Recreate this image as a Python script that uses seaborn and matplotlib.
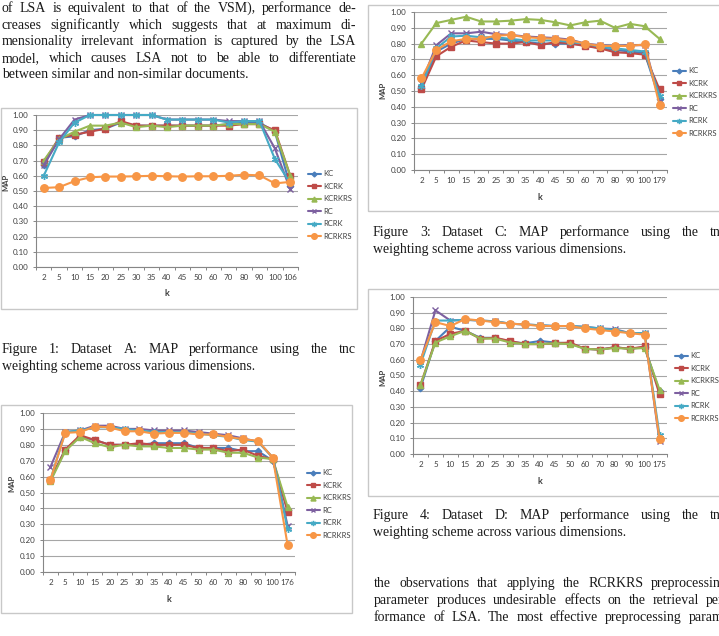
import numpy as np
import pandas as pd
import matplotlib
matplotlib.use('Agg')
import matplotlib.pyplot as plt
from matplotlib.patches import Rectangle
import seaborn as sns

sns.set_style('white')
plt.rcParams['font.family'] = ['Lato', 'DejaVu Sans']

W, H = 719, 636

# ---- datos ----
series = ['KC', 'KCRK', 'KCRKRS', 'RC', 'RCRK', 'RCRKRS']
colores = ['#4a7ebb', '#be4b48', '#98b954', '#7d60a0', '#46aac5', '#f79646']

k_a = ['2', '5', '10', '15', '20', '25', '30', '35', '40', '45', '50', '60', '70', '80', '90', '100', '106']
kc_a = [0.67, 0.85, 0.86, 0.90, 0.91, 0.95, 0.93, 0.93, 0.93, 0.93, 0.93, 0.93, 0.94, 0.95, 0.95, 0.89, 0.53]
kcrk_a = [0.69, 0.85, 0.87, 0.89, 0.91, 0.96, 0.93, 0.93, 0.93, 0.93, 0.93, 0.93, 0.93, 0.94, 0.94, 0.90, 0.60]
kcrkrs_a = [0.70, 0.84, 0.89, 0.93, 0.93, 0.95, 0.92, 0.93, 0.92, 0.93, 0.93, 0.93, 0.94, 0.94, 0.94, 0.89, 0.60]
rc_a = [0.67, 0.84, 0.97, 1.00, 1.00, 1.00, 1.00, 1.00, 0.97, 0.97, 0.97, 0.97, 0.96, 0.96, 0.96, 0.78, 0.51]
rcrk_a = [0.60, 0.82, 0.95, 1.00, 1.00, 1.00, 1.00, 1.00, 0.97, 0.97, 0.97, 0.97, 0.95, 0.96, 0.96, 0.71, 0.55]
rcrkrs_a = [0.52, 0.525, 0.565, 0.59, 0.595, 0.595, 0.597, 0.60, 0.597, 0.595, 0.597, 0.597, 0.60, 0.607, 0.603, 0.55, 0.56]

k_b = ['2', '5', '10', '15', '20', '25', '30', '35', '40', '45', '50', '60', '70', '80', '90', '100', '176']
kc_b = [0.58, 0.77, 0.85, 0.83, 0.80, 0.80, 0.80, 0.81, 0.81, 0.81, 0.78, 0.78, 0.78, 0.76, 0.76, 0.70, 0.39]
kcrk_b = [0.58, 0.77, 0.86, 0.83, 0.80, 0.80, 0.81, 0.80, 0.80, 0.80, 0.78, 0.78, 0.76, 0.77, 0.73, 0.71, 0.38]
kcrkrs_b = [0.57, 0.76, 0.85, 0.81, 0.785, 0.80, 0.79, 0.79, 0.78, 0.78, 0.77, 0.77, 0.75, 0.75, 0.72, 0.71, 0.41]
rc_b = [0.66, 0.88, 0.89, 0.92, 0.92, 0.90, 0.90, 0.89, 0.89, 0.89, 0.88, 0.87, 0.86, 0.84, 0.82, 0.72, 0.29]
rcrk_b = [0.58, 0.88, 0.89, 0.91, 0.91, 0.90, 0.89, 0.88, 0.88, 0.88, 0.87, 0.86, 0.85, 0.83, 0.82, 0.72, 0.27]
rcrkrs_b = [0.58, 0.875, 0.88, 0.915, 0.91, 0.885, 0.885, 0.87, 0.875, 0.875, 0.865, 0.865, 0.85, 0.835, 0.825, 0.72, 0.17]

k_c = ['2', '5', '10', '15', '20', '25', '30', '35', '40', '45', '50', '60', '70', '80', '90', '100', '179']
kc_c = [0.52, 0.75, 0.80, 0.83, 0.83, 0.83, 0.82, 0.81, 0.80, 0.80, 0.80, 0.79, 0.77, 0.76, 0.75, 0.74, 0.45]
kcrk_c = [0.51, 0.72, 0.78, 0.82, 0.81, 0.80, 0.80, 0.81, 0.79, 0.81, 0.80, 0.785, 0.77, 0.745, 0.74, 0.73, 0.51]
kcrkrs_c = [0.80, 0.93, 0.95, 0.97, 0.94, 0.94, 0.945, 0.955, 0.95, 0.935, 0.915, 0.935, 0.945, 0.90, 0.925, 0.91, 0.83]
rc_c = [0.55, 0.79, 0.865, 0.865, 0.875, 0.86, 0.855, 0.845, 0.84, 0.835, 0.825, 0.80, 0.79, 0.785, 0.79, 0.79, 0.44]
rcrk_c = [0.53, 0.77, 0.845, 0.85, 0.84, 0.84, 0.83, 0.82, 0.82, 0.82, 0.81, 0.80, 0.78, 0.77, 0.76, 0.75, 0.47]
rcrkrs_c = [0.58, 0.76, 0.815, 0.83, 0.83, 0.85, 0.855, 0.84, 0.835, 0.83, 0.82, 0.80, 0.785, 0.785, 0.785, 0.795, 0.41]

k_d = ['2', '5', '10', '15', '20', '25', '30', '35', '40', '45', '50', '60', '70', '80', '90', '100', '175']
kc_d = [0.42, 0.72, 0.81, 0.785, 0.74, 0.74, 0.715, 0.705, 0.72, 0.71, 0.705, 0.67, 0.665, 0.68, 0.67, 0.68, 0.40]
kcrk_d = [0.44, 0.72, 0.765, 0.785, 0.735, 0.74, 0.72, 0.70, 0.70, 0.705, 0.71, 0.67, 0.665, 0.68, 0.67, 0.685, 0.38]
kcrkrs_d = [0.44, 0.71, 0.75, 0.785, 0.735, 0.735, 0.71, 0.70, 0.70, 0.705, 0.70, 0.67, 0.665, 0.675, 0.67, 0.675, 0.41]
rc_d = [0.59, 0.915, 0.85, 0.855, 0.85, 0.845, 0.83, 0.825, 0.82, 0.815, 0.815, 0.81, 0.80, 0.795, 0.77, 0.77, 0.08]
rcrk_d = [0.57, 0.85, 0.85, 0.855, 0.85, 0.845, 0.83, 0.825, 0.82, 0.815, 0.815, 0.81, 0.80, 0.79, 0.77, 0.77, 0.12]
rcrkrs_d = [0.60, 0.84, 0.815, 0.86, 0.85, 0.84, 0.83, 0.825, 0.815, 0.815, 0.815, 0.80, 0.79, 0.78, 0.77, 0.76, 0.095]

marcadores = {'KC': 'D', 'KCRK': 's', 'KCRKRS': '^', 'RC': 'x', 'RCRK': (6, 2, 0), 'RCRKRS': 'o'}
tam = {'KC': 3.3, 'KCRK': 4.6, 'KCRKRS': 4.8, 'RC': 4.6, 'RCRK': 5.0, 'RCRKRS': 5.4}

texto_izq = ['of LSA is equivalent to that of the VSM), performance de-',
             'creases significantly which suggests that at maximum di-',
             'mensionality irrelevant information is captured by the LSA',
             'model, which causes LSA not to be able to differentiate',
             'between similar and non-similar documents.']
cap1 = ['Figure 1:  Dataset A: MAP performance using the tnc',
        'weighting scheme across various dimensions.']
cap3 = ['Figure 3:  Dataset C: MAP performance using the tnc',
        'weighting scheme across various dimensions.']
cap4 = ['Figure 4:  Dataset D: MAP performance using the tnc',
        'weighting scheme across various dimensions.']
texto_der = ['the observations that applying the RCRKRS preprocessing',
             'parameter produces undesirable effects on the retrieval per-',
             'formance of LSA. The most effective preprocessing param-']

fig = plt.figure(figsize=(W / 100, H / 100), dpi=100)
fig.patch.set_facecolor('white')
renderer = fig.canvas.get_renderer()


def fx(px):
    return px / W


def fy(py):
    return 1 - py / H


# ---- graficos ----
graficos = [
    dict(k=k_a, vals=[kc_a, kcrk_a, kcrkrs_a, rc_a, rcrk_a, rcrkrs_a],
         area=(36, 298, 115, 267), caja=(0.5, 108, 357, 309), ley=(308, 175, 13.6),
         map=(6, 182), klab=(167, 293)),
    dict(k=k_b, vals=[kc_b, kcrk_b, kcrkrs_b, rc_b, rcrk_b, rcrkrs_b],
         area=(43, 295, 413, 572), caja=(0.5, 405, 352, 613), ley=(307, 474, 14),
         map=(12, 483), klab=(169, 599)),
    dict(k=k_c, vals=[kc_c, kcrk_c, kcrkrs_c, rc_c, rcrk_c, rcrkrs_c],
         area=(414, 667, 12, 170), caja=(368, 5, 730, 211), ley=(673, 72, 14),
         map=(383, 90), klab=(540, 197)),
    dict(k=k_d, vals=[kc_d, kcrk_d, kcrkrs_d, rc_d, rcrk_d, rcrkrs_d],
         area=(413, 667, 297, 454), caja=(368, 289, 730, 496), ley=(675, 357, 14),
         map=(383, 377), klab=(540, 482)),
]

for g in graficos:
    x0, y0, x1, y1 = g['caja']
    fig.patches.append(Rectangle((fx(x0), fy(y1)), (x1 - x0) / W, (y1 - y0) / H,
                                 transform=fig.transFigure, fill=False,
                                 edgecolor='#c8c8c8', linewidth=1.0))

    l, r, t, b = g['area']
    ax = fig.add_axes([fx(l), fy(b), (r - l) / W, (b - t) / H])

    n = len(g['k'])
    df = pd.DataFrame({
        'k': g['k'] * len(series),
        'MAP': np.concatenate(g['vals']),
        'Esquema': np.repeat(series, n),
    })
    df['pos'] = df['k'].map({k: i for i, k in enumerate(g['k'])})

    for nombre, c in zip(series, colores):
        sub = df[df['Esquema'] == nombre]
        sns.lineplot(data=sub, x='pos', y='MAP', ax=ax, color=c, linewidth=1.5,
                     marker=marcadores[nombre], markersize=tam[nombre],
                     markeredgecolor=c, markeredgewidth=1.0, errorbar=None,
                     sort=False, legend=False)

    for ln in ax.get_lines():
        ln.set_clip_on(False)

    ax.set_xlim(-0.5, n - 0.5)
    ax.set_ylim(0, 1.0)
    ax.set_xlabel('')
    ax.set_ylabel('')
    ax.set_yticks(np.round(np.arange(0, 1.01, 0.1), 2))
    ax.set_yticklabels([f'{v:.2f}' for v in np.arange(0, 1.01, 0.1)])
    ax.set_xticks(np.arange(-0.5, n, 1.0))
    ax.set_xticklabels([''] * (n + 1))
    ax.set_xticks(np.arange(n), minor=True)
    ax.set_xticklabels(g['k'], minor=True)
    ax.tick_params(axis='x', which='major', direction='out', length=2.5, width=0.7,
                   color='#868686', bottom=True)
    ax.tick_params(axis='x', which='minor', length=0, pad=5, labelsize=5.8,
                   labelcolor='#404040', bottom=True)
    ax.tick_params(axis='y', direction='out', length=2.5, width=0.7, color='#868686',
                   pad=3, labelsize=5.8, labelcolor='#404040', left=True)
    ax.grid(axis='y', color='#a6a6a6', linewidth=0.8)
    ax.grid(axis='x', visible=False)
    ax.set_axisbelow(True)
    for s in ['top', 'right']:
        ax.spines[s].set_visible(False)
    for s in ['left', 'bottom']:
        ax.spines[s].set_color('#868686')
        ax.spines[s].set_linewidth(0.8)
    ax.set_facecolor('none')

    lx, ly, esp = g['ley']
    ax.legend(ax.get_lines(), series, loc='upper left',
              bbox_to_anchor=(fx(lx), fy(ly - 4.6)), bbox_transform=fig.transFigure,
              frameon=False, fontsize=5.5, labelcolor='#404040', handlelength=1.7,
              handletextpad=0.3, labelspacing=0.72, borderpad=0, borderaxespad=0,
              markerscale=0.75)

    fig.text(fx(g['map'][0]), fy(g['map'][1]), 'MAP', rotation=90, ha='center',
             va='center', fontsize=5.5, fontweight='bold', color='#404040')
    fig.text(fx(g['klab'][0]), fy(g['klab'][1]), 'k', ha='center', va='center',
             fontsize=6.5, fontweight='bold', color='#404040')

# ---- texto del articulo ----
tkw = dict(fontsize=10.0, family=['Liberation Serif', 'DejaVu Serif'], color='#1a1a1a')


def linea(s, x0, x1, y, justificar):
    base = fy(y + 4)
    if not justificar:
        fig.text(fx(x0), base, s, ha='left', va='baseline', **tkw)
        return
    palabras = s.split()
    arts = [fig.text(0, base, p, ha='left', va='baseline', **tkw) for p in palabras]
    anchos = [a.get_window_extent(renderer).width for a in arts]
    hueco = (x1 - x0 - sum(anchos)) / (len(palabras) - 1)
    x = x0
    for a, w in zip(arts, anchos):
        a.set_x(fx(x))
        x += w + hueco


def parrafo(lineas, x0, x1, ys, ultima_izq=True):
    for i, (s, y) in enumerate(zip(lineas, ys)):
        linea(s, x0, x1, y, not (ultima_izq and i == len(lineas) - 1))


parrafo(texto_izq, 2, 356, [8, 25, 41, 58, 74])
parrafo(cap1, 2, 356, [349, 366])
parrafo(cap3, 373, 727, [232, 249])
parrafo(cap4, 373, 727, [515, 532])
parrafo(texto_der, 374, 728, [583, 600, 617], ultima_izq=False)

fig.savefig('out.png', dpi=100, facecolor='white')
